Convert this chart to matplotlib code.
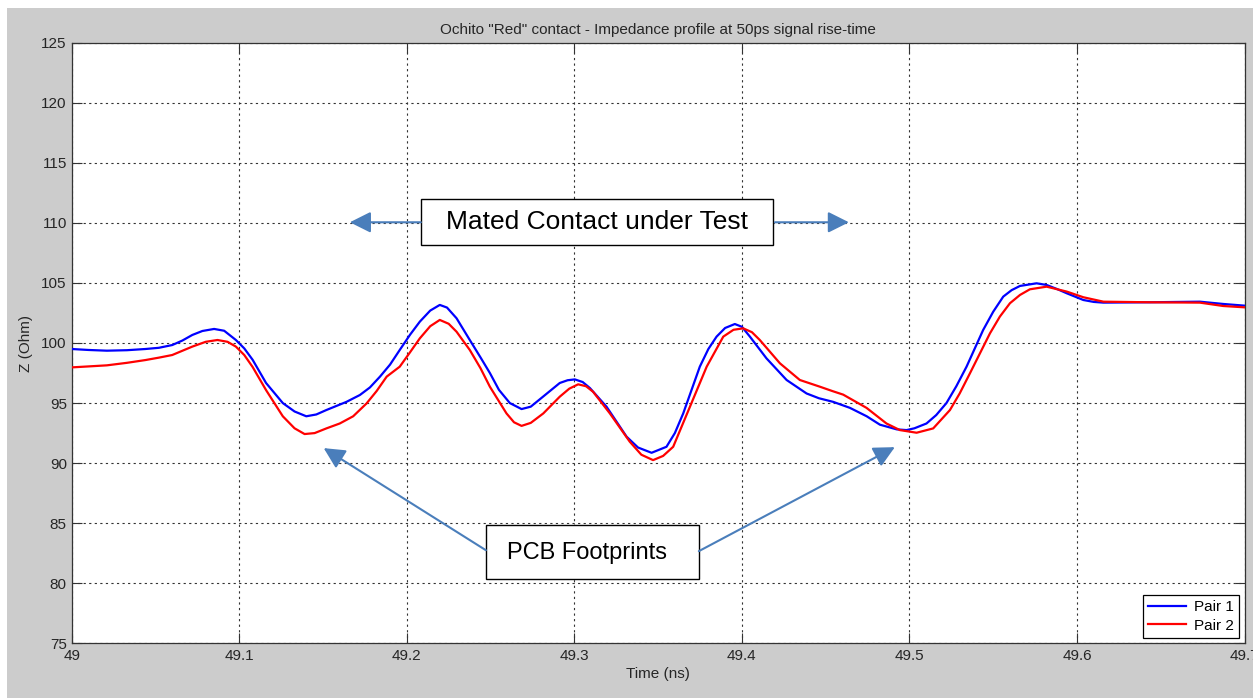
import matplotlib
matplotlib.use("Agg")
import matplotlib.pyplot as plt
from matplotlib.patches import Rectangle

plt.rcParams['font.family'] = ['Liberation Sans', 'DejaVu Sans']

# values
t_pair1 = [49.000, 49.010, 49.021, 49.033, 49.044, 49.052, 49.060, 49.066, 49.072, 49.078,
           49.085, 49.091, 49.098, 49.103, 49.108, 49.116, 49.126, 49.133, 49.140, 49.146,
           49.152, 49.164, 49.172, 49.178, 49.184, 49.190, 49.1958, 49.202, 49.2078, 49.214,
           49.2197, 49.224, 49.2297, 49.2376, 49.244, 49.2496, 49.255, 49.2615, 49.2685, 49.274,
           49.2813, 49.2913, 49.296, 49.3003, 49.305, 49.3093, 49.3192, 49.3312, 49.338, 49.3461,
           49.3550, 49.360, 49.3650, 49.3749, 49.380, 49.3849, 49.390, 49.3958, 49.400, 49.4048,
           49.4147, 49.4267, 49.4386, 49.446, 49.4545, 49.4645, 49.4745, 49.4824, 49.4924, 49.4983,
           49.503, 49.5102, 49.516, 49.5221, 49.528, 49.5341, 49.5440, 49.550, 49.5560, 49.561,
           49.5660, 49.5759, 49.5819, 49.588, 49.5939, 49.6038, 49.610, 49.6158, 49.6436, 49.6734,
           49.6873, 49.7000]
z_pair1 = [99.50, 99.42, 99.36, 99.40, 99.50, 99.60, 99.83, 100.20, 100.67, 101.00,
           101.17, 101.02, 100.25, 99.55, 98.60, 96.67, 95.00, 94.30, 93.90, 94.05,
           94.42, 95.10, 95.67, 96.30, 97.20, 98.20, 99.42, 100.70, 101.78, 102.70,
           103.17, 102.95, 102.06, 100.25, 98.80, 97.50, 96.10, 95.00, 94.50, 94.70,
           95.53, 96.67, 96.90, 96.97, 96.75, 96.25, 94.70, 92.20, 91.30, 90.86,
           91.36, 92.50, 94.14, 98.03, 99.50, 100.53, 101.25, 101.58, 101.35, 100.53,
           98.72, 96.92, 95.80, 95.40, 95.10, 94.60, 93.90, 93.20, 92.81, 92.75,
           92.90, 93.30, 94.00, 95.00, 96.40, 98.03, 101.08, 102.60, 103.86, 104.40,
           104.75, 104.97, 104.83, 104.50, 104.14, 103.58, 103.42, 103.36, 103.39, 103.44,
           103.25, 103.11]

t_pair2 = [49.000, 49.010, 49.021, 49.033, 49.044, 49.052, 49.060, 49.066, 49.072, 49.080,
           49.087, 49.093, 49.098, 49.103, 49.108, 49.116, 49.126, 49.133, 49.139, 49.145,
           49.152, 49.160, 49.168, 49.176, 49.182, 49.188, 49.1958, 49.2018, 49.2078, 49.214,
           49.2197, 49.2250, 49.2297, 49.2376, 49.2440, 49.2496, 49.2595, 49.2640, 49.2685, 49.2740,
           49.2815, 49.2913, 49.2970, 49.3023, 49.3070, 49.3112, 49.3212, 49.3331, 49.3400, 49.3470,
           49.3530, 49.3590, 49.3690, 49.3790, 49.3889, 49.3950, 49.4008, 49.4060, 49.4107, 49.4227,
           49.4346, 49.4466, 49.4540, 49.4605, 49.4744, 49.4863, 49.4943, 49.5043, 49.5142, 49.5242,
           49.5300, 49.5361, 49.5481, 49.5540, 49.5600, 49.5660, 49.5719, 49.5819, 49.5939, 49.6038,
           49.6158, 49.6436, 49.6734, 49.6873, 49.7000]
z_pair2 = [97.97, 98.05, 98.14, 98.35, 98.58, 98.78, 99.00, 99.35, 99.70, 100.10,
           100.25, 100.10, 99.70, 99.00, 98.00, 96.08, 93.90, 92.90, 92.42, 92.50,
           92.89, 93.30, 93.90, 94.97, 96.00, 97.20, 98.03, 99.20, 100.39, 101.40,
           101.92, 101.60, 100.94, 99.42, 97.90, 96.36, 94.14, 93.40, 93.10, 93.35,
           94.14, 95.53, 96.20, 96.56, 96.40, 95.94, 94.14, 91.78, 90.70, 90.25,
           90.60, 91.36, 94.69, 98.03, 100.53, 101.10, 101.22, 100.90, 100.25, 98.31,
           96.92, 96.36, 96.00, 95.70, 94.60, 93.30, 92.75, 92.53, 92.89, 94.42,
           95.80, 97.47, 100.81, 102.20, 103.31, 104.00, 104.47, 104.69, 104.28, 103.81,
           103.44, 103.39, 103.36, 103.08, 102.97]

x_ticks = [49.0, 49.1, 49.2, 49.3, 49.4, 49.5, 49.6, 49.7]
x_tick_labels = ["49", "49.1", "49.2", "49.3", "49.4", "49.5", "49.6", "49.7"]
y_ticks = [75, 80, 85, 90, 95, 100, 105, 110, 115, 120, 125]
series_labels = ["Pair 1", "Pair 2"]

W, H = 1253, 698
fig = plt.figure(figsize=(W / 100, H / 100), dpi=100, facecolor='white')
# grey window background with thin white strip left and top
fig.add_artist(Rectangle((7 / W, 0), 1, 1 - 8 / H, transform=fig.transFigure,
                         facecolor='#cccccc', edgecolor='none', zorder=-10))

ax = fig.add_axes([71.7 / W, (H - 643.3) / H, (1244.5 - 71.7) / W, (643.3 - 42.7) / H])
ax.set_facecolor('white')

ax.plot(t_pair1, z_pair1, color='#0000ff', lw=1.6, label=series_labels[0], zorder=3,
        solid_joinstyle='round')
ax.plot(t_pair2, z_pair2, color='#ff0000', lw=1.6, label=series_labels[1], zorder=3,
        solid_joinstyle='round')

ax.set_xlim(49.0, 49.7)
ax.set_ylim(75, 125)
ax.set_xticks(x_ticks)
ax.set_xticklabels(x_tick_labels)
ax.set_yticks(y_ticks)
ax.tick_params(direction='in', length=7, width=0.8, color='#333333', labelsize=11,
               labelcolor='#262626', top=True, right=True, pad=3.5)
ax.tick_params(axis='x', pad=4)
for s in ax.spines.values():
    s.set_color('#333333')
    s.set_linewidth(0.9)
ax.grid(True, linestyle=(0, (2, 3)), color='#333333', lw=0.8, zorder=0)
ax.set_axisbelow(True)

ax.set_title('Ochito "Red" contact - Impedance profile at 50ps signal rise-time',
             fontsize=11, color='#262626', pad=6)
ax.set_xlabel('Time (ns)', fontsize=11, color='#262626', labelpad=3)
ax.set_ylabel('Z (Ohm)', fontsize=11, color='#262626', labelpad=6)

leg = ax.legend(loc='lower right', fontsize=11, fancybox=False, framealpha=1,
                edgecolor='black', handlelength=2.5, labelspacing=0.3, borderpad=0.35,
                borderaxespad=0.35, handletextpad=0.5)
leg.get_frame().set_linewidth(0.9)
leg.set_zorder(5)

# callouts
arrow_col = '#4a7ebb'
aprops = dict(arrowstyle='-|>,head_length=0.8,head_width=0.4', color=arrow_col, lw=1.5,
              mutation_scale=16, shrinkA=0, shrinkB=0)

ax.add_patch(Rectangle((49.2084, 108.17), 49.4185 - 49.2084, 112.0 - 108.17,
                       facecolor='white', edgecolor='black', lw=1.0, zorder=6))
ax.text(49.3134, 110.08, 'Mated Contact under Test', fontsize=19, ha='center', va='center',
        color='black', zorder=7)
ax.annotate('', xy=(49.166, 110.05), xytext=(49.2084, 110.05), arrowprops=aprops, zorder=6)
ax.annotate('', xy=(49.4639, 110.05), xytext=(49.4197, 110.05), arrowprops=aprops, zorder=6)

ax.add_patch(Rectangle((49.2472, 80.33), 49.3743 - 49.2472, 84.83 - 80.33,
                       facecolor='white', edgecolor='black', lw=1.0, zorder=6))
ax.text(49.3075, 82.5, 'PCB Footprints', fontsize=17, ha='center', va='center',
        color='black', zorder=7)
ax.annotate('', xy=(49.1504, 91.25), xytext=(49.2472, 82.75), arrowprops=aprops, zorder=6)
ax.annotate('', xy=(49.4913, 91.33), xytext=(49.3743, 82.67), arrowprops=aprops, zorder=6)

fig.savefig('out.png', dpi=100, facecolor=fig.get_facecolor())
